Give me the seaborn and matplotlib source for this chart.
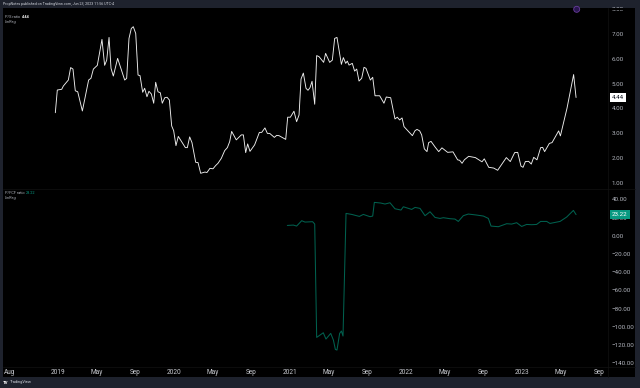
import matplotlib
matplotlib.use("Agg")
import matplotlib.pyplot as plt
import seaborn as sns
import pandas as pd
from matplotlib.patches import Rectangle, Circle
from matplotlib.lines import Line2D

# Time is measured in years since January 2019
ps_time = [-0.023,-0.006,.032,.046,.089,.109,.129,.149,.170,.210,.264,.284,.305,.339,.379,.402,.420,.440,.457,.477,.514,.575,.592,.612,.632,.649,.670,.690,.707,.730,.747,.767,.784,.805,.825,.842,.862,.882,.899,.920,.940,.960,.980,.997,1.017,1.037,1.098,1.115,1.135,1.155,1.187,1.207,1.230,1.267,1.284,1.310,1.336,
1.359,1.379,1.408,1.437,1.460,1.480,1.497,1.537,1.580,1.598,1.618,1.635,1.655,1.695,1.736,1.756,1.784,1.805,1.825,1.865,1.885,1.905,1.963,1.980,2.003,2.034,2.057,2.078,2.095,2.115,2.138,2.155,2.172,2.190,2.213,2.230,2.250,2.290,2.307,2.342,2.365,2.385,2.405,2.443,2.460,2.480,2.494,2.509,2.537,2.557,2.575,2.595,2.618,2.638,2.655,2.693,2.713,2.733,2.773,2.810,2.830,2.868,2.905,2.925,2.945,2.966,2.983,3.055,3.078,3.095,3.118,3.135,3.158,
3.181,3.195,3.216,3.253,3.282,3.310,3.359,3.405,3.445,3.463,3.483,3.503,3.540,3.598,3.655,3.675,3.713,3.756,3.790,3.865,3.899,3.937,3.963,3.991,4.009,4.029,4.057,4.080,4.101,4.129,4.161,4.178,4.195,4.236,4.259,4.316,4.331,4.388,4.445,4.466]
ps_ratio = [3.83,4.74,4.77,4.90,5.14,5.64,5.58,4.71,4.67,3.90,5.14,5.21,5.58,5.73,6.77,5.73,5.94,6.85,5.61,5.30,6.01,5.14,5.21,6.81,7.21,7.28,7.01,5.34,5.32,4.65,4.81,4.47,4.69,4.58,4.21,5.05,4.67,4.63,4.21,4.43,4.45,4.34,3.30,3.11,2.51,2.88,2.43,2.43,2.86,2.63,1.84,1.83,1.40,1.45,1.43,1.60,1.58,
1.71,1.80,2.00,2.31,2.43,2.67,3.08,2.74,2.94,2.94,2.23,2.58,2.28,2.54,3.04,3.04,3.22,3.00,3.00,2.84,2.92,2.91,2.76,3.65,3.65,3.89,3.47,3.74,5.18,5.42,4.81,4.73,4.83,5.09,4.17,6.12,6.08,5.85,6.21,5.85,5.94,6.81,6.85,5.77,6.04,5.81,5.90,5.74,5.81,5.50,5.58,5.10,5.21,5.65,5.61,5.14,5.25,4.51,4.51,4.21,4.46,4.43,3.58,3.65,3.54,3.62,3.27,2.91,3.11,3.16,3.10,2.94,2.38,
2.27,2.63,2.68,2.44,2.27,2.42,2.24,2.26,1.94,1.92,1.80,1.94,2.08,2.03,1.86,1.98,1.64,1.61,1.52,2.03,1.87,2.23,2.24,1.69,1.64,1.87,1.88,1.77,2.04,1.94,2.43,2.44,2.27,2.60,2.63,3.10,2.90,4.01,5.36,4.44]

pfcf_time = [1.977,2.029,2.057,2.101,2.129,2.195,2.213,2.230,2.287,2.310,2.351,2.374,2.391,2.405,2.428,2.443,2.457,2.483,2.532,2.598,2.632,2.690,2.713,2.727,2.782,2.819,2.862,2.905,2.957,2.977,3.049,3.078,3.121,3.164,3.207,3.250,3.293,3.322,3.379,3.422,3.451,3.494,3.537,3.609,3.667,3.710,3.733,3.796,3.868,3.911,3.954,3.997,4.040,4.083,4.126,4.161,4.213,4.241,4.328,4.385,4.443,4.466]
pfcf_ratio = [11.3,11.7,10.6,16.5,15.0,15.4,12.8,-111.6,-106.5,-113.4,-107.2,-114.5,-124.8,-125.5,-107.2,-104.6,-110.1,24.5,23.4,21.2,23.4,20.9,21.6,36.6,35.9,34.8,36.2,29.6,28.2,31.8,28.9,31.1,30.0,22.0,26.3,20.1,19.0,19.8,18.7,18.3,15.7,22.0,23.8,22.7,21.6,19.0,10.6,9.9,13.2,12.8,14.3,10.2,12.4,12.1,12.4,15.7,15.7,13.5,15.7,20.5,27.8,23.22]

ps_ticks = [1, 2, 3, 4, 5, 6, 7, 8]
pfcf_ticks = [40, 20, 0, -20, -40, -60, -80, -100, -120, -140]
x_ticks = [-5/12, 0, 1/3, 2/3, 1, 4/3, 5/3, 2, 7/3, 8/3, 3, 10/3, 11/3, 4, 13/3, 14/3]
x_labels = ["Aug","2019","May","Sep","2020","May","Sep","2021","May","Sep","2022","May","Sep","2023","May","Sep"]

W, H = 640, 388
FRAME = "#1e222d"
TXT = "#b2b5be"
GREEN = "#00614f"
sns.set_style("dark")
plt.rcParams["font.family"] = ["Roboto", "DejaVu Sans"]

fig = plt.figure(figsize=(W/100, H/100), dpi=100, facecolor=FRAME)

def box(l, t, r, b):
    return [l/W, 1-b/H, (r-l)/W, (b-t)/H]

bg = fig.add_axes(box(3, 8, 635, 377), facecolor="black")
bg.set_xticks([]); bg.set_yticks([])
for s in bg.spines.values():
    s.set_visible(False)

top = fig.add_axes(box(3, 8, 607, 188), facecolor="none")
bot = fig.add_axes(box(3, 189, 607, 366), facecolor="none")

df1 = pd.DataFrame({"t": ps_time, "v": ps_ratio})
df2 = pd.DataFrame({"t": pfcf_time, "v": pfcf_ratio})
sns.lineplot(data=df1, x="t", y="v", ax=top, color="#eeeeee", lw=0.65, estimator=None, sort=False)
sns.lineplot(data=df2, x="t", y="v", ax=bot, color=GREEN, lw=0.75, estimator=None, sort=False)

xl = ((3-58)/116, (607-58)/116)
top.set_xlim(*xl); bot.set_xlim(*xl)
top.set_ylim(0.81, 8.03)
bot.set_ylim(-143.0, 51.3)

for ax in (top, bot):
    ax.set_xlabel(""); ax.set_ylabel("")
    ax.grid(False)
    for s in ax.spines.values():
        s.set_visible(False)
    ax.yaxis.tick_right()

top.set_yticks(ps_ticks, [f"{v:.2f}" for v in ps_ticks])
bot.set_yticks(pfcf_ticks, [f"\u2212{abs(v):.2f}" if v < 0 else f"{v:.2f}" for v in pfcf_ticks])
top.set_xticks([])
bot.set_xticks(x_ticks, x_labels)
for ax in (top, bot):
    ax.tick_params(axis="y", length=0, pad=3.6, labelsize=4.5, labelcolor=TXT)
bot.tick_params(axis="x", length=0, pad=1.8, labelsize=4.7, labelcolor="#c8cad0")

# value tags
top.annotate("4.44", xy=(1, 4.44), xycoords=("axes fraction", "data"), xytext=(3.4, 0), textcoords="offset points",
             ha="left", va="center", fontsize=4.5, color="#131722", zorder=6,
             bbox=dict(boxstyle="square,pad=0.35", fc="white", ec="none"), annotation_clip=False)
bot.annotate("23.22", xy=(1, 23.22), xycoords=("axes fraction", "data"), xytext=(3.4, 0), textcoords="offset points",
             ha="left", va="center", fontsize=4.5, color="white", zorder=6,
             bbox=dict(boxstyle="square,pad=0.35", fc="#089981", ec="none"), annotation_clip=False)

# thin pane dividers and the edge that cuts the outermost scale labels
for seg in (((3, 635), (188.5, 188.5)), ((608, 608), (8, 377)), ((3, 635), (366.5, 366.5))):
    fig.add_artist(Line2D([seg[0][0]/W, seg[0][1]/W], [1-seg[1][0]/H, 1-seg[1][1]/H], color="#121212", lw=0.5, zorder=4))
fig.add_artist(Rectangle((609/W, 1-10.2/H), 26/W, 2.2/H, transform=fig.transFigure, fc="black", ec="none", zorder=5))
fig.add_artist(Rectangle((609/W, 1-367/H), 26/W, 2.5/H, transform=fig.transFigure, fc="black", ec="none", zorder=5))

def T(x, y, s, **kw):
    kw.setdefault("fontsize", 2.75)
    kw.setdefault("color", TXT)
    return fig.text(x/W, 1-y/H, s, ha=kw.pop("ha", "left"), va="center", **kw)

T(3, 4.5, "PropNotes published on TradingView.com, Jun 23, 2023 11:56 UTC-4", fontsize=2.6, color="#d1d4dc")
T(5, 17.5, "P/S ratio")
T(22, 17.5, "4.44", color="white", fontweight="bold")
T(5, 22.5, "LinReg")
T(5, 192.5, "P/FCF ratio")
T(26, 192.5, "23.22", color="#089981")
T(5, 197.5, "LinReg")
T(10, 382.5, "TradingView", fontsize=2.85, color="#d1d4dc")
T(3.2, 382.5, "TV", fontsize=3.2, color="white", fontweight="bold")

fig.add_artist(Circle((5.767, 3.88-0.093), 0.03, transform=fig.dpi_scale_trans, fc="#2a1750", ec="#6a3d9e", lw=0.6, zorder=6))
fig.savefig("out.png", dpi=100, facecolor=fig.get_facecolor())
